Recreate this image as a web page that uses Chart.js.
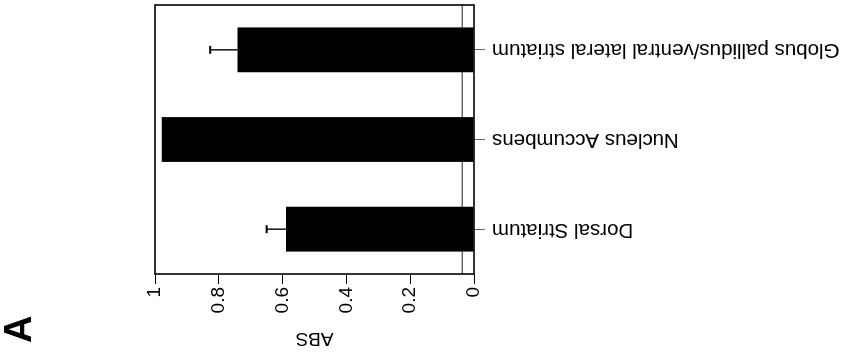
<!DOCTYPE html>
<html>
<head>
<meta charset="utf-8">
<script src="https://cdn.jsdelivr.net/npm/chart.js@4"></script>
<style>
  html, body { margin: 0; padding: 0; background: #fff; overflow: hidden; width: 845px; height: 354px; }
  #wrap { position: absolute; left: 0; top: 0; width: 354px; height: 845px;
          transform-origin: 0 0; transform: translate(0px, 354px) rotate(-90deg); }
</style>
</head>
<body>
<div id="wrap"><canvas id="c"></canvas></div>
<script>
const categories = ['Dorsal Striatum', 'Nucleus Accumbens', 'Globus pallidus/ventral lateral striatum'];
const absValues = [0.589, 0.979, 0.741];
const absErrors = [0.061, 0, 0.086];
const valueTicks = [0, 0.2, 0.4, 0.6, 0.8, 1];
const baselineValue = 0.037;
const axisTitle = 'ABS';
const panelLabel = 'A';

Chart.defaults.font.family = '"Liberation Sans", Arial, Helvetica, sans-serif';
Chart.defaults.color = '#000';

const framePlugin = {
  id: 'frame',
  beforeDatasetsDraw(chart) {
    const {ctx, chartArea: a, scales: {y}} = chart;
    const yy = y.getPixelForValue(baselineValue);
    ctx.save();
    ctx.strokeStyle = '#222';
    ctx.lineWidth = 1;
    ctx.beginPath();
    ctx.moveTo(a.left, yy);
    ctx.lineTo(a.right, yy);
    ctx.stroke();
    ctx.restore();
  },
  afterDatasetsDraw(chart) {
    const {ctx, chartArea: a, scales: {y}} = chart;
    const meta = chart.getDatasetMeta(0);
    ctx.save();
    ctx.strokeStyle = '#000';
    meta.data.forEach((bar, i) => {
      const e = absErrors[i];
      if (!e) return;
      const y0 = y.getPixelForValue(absValues[i]);
      const y1 = y.getPixelForValue(absValues[i] + e);
      ctx.lineWidth = 1.4;
      ctx.beginPath();
      ctx.moveTo(bar.x, y0);
      ctx.lineTo(bar.x, y1);
      ctx.stroke();
      ctx.lineWidth = 2;
      ctx.beginPath();
      ctx.moveTo(bar.x - 4, y1);
      ctx.lineTo(bar.x + 4, y1);
      ctx.stroke();
    });
    ctx.lineWidth = 1.6;
    ctx.strokeRect(a.left, a.top, a.right - a.left, a.bottom - a.top);
    ctx.restore();
  }
};

new Chart(document.getElementById('c'), {
  type: 'bar',
  data: {
    labels: categories,
    datasets: [{
      data: absValues,
      backgroundColor: '#000',
      borderWidth: 0,
      categoryPercentage: 1,
      barPercentage: 0.5
    }]
  },
  options: {
    responsive: true,
    maintainAspectRatio: false,
    animation: false,
    layout: { padding: { left: 11, right: 5, top: 0, bottom: 0 } },
    plugins: {
      legend: { display: false },
      tooltip: { enabled: false },
      title: {
        display: true,
        text: panelLabel,
        align: 'start',
        font: { size: 38, weight: 'bold' },
        padding: { top: -2, bottom: 111.4 }
      }
    },
    scales: {
      x: {
        type: 'category',
        offset: true,
        afterFit(s) { s.height = 371; },
        grid: { display: true, offset: false, drawOnChartArea: false, drawTicks: true, tickLength: 11, color: '#666', lineWidth: 1 },
        border: { display: false },
        ticks: { minRotation: 90, maxRotation: 90, autoSkip: false, padding: 7, font: { size: 20.5 } }
      },
      y: {
        type: 'linear',
        min: 0,
        max: 1,
        afterFit(s) { s.width = 69; },
        afterBuildTicks(s) { s.ticks = valueTicks.map(v => ({ value: v })); },
        grid: { display: true, drawOnChartArea: false, drawTicks: true, tickLength: 10, color: '#000', lineWidth: 1 },
        border: { display: false },
        ticks: { padding: 3, font: { size: 19 }, callback: v => String(v) },
        title: { display: true, text: axisTitle, font: { size: 19 }, padding: { top: -7, bottom: 0 } }
      }
    }
  },
  plugins: [framePlugin]
});
</script>
</body>
</html>
